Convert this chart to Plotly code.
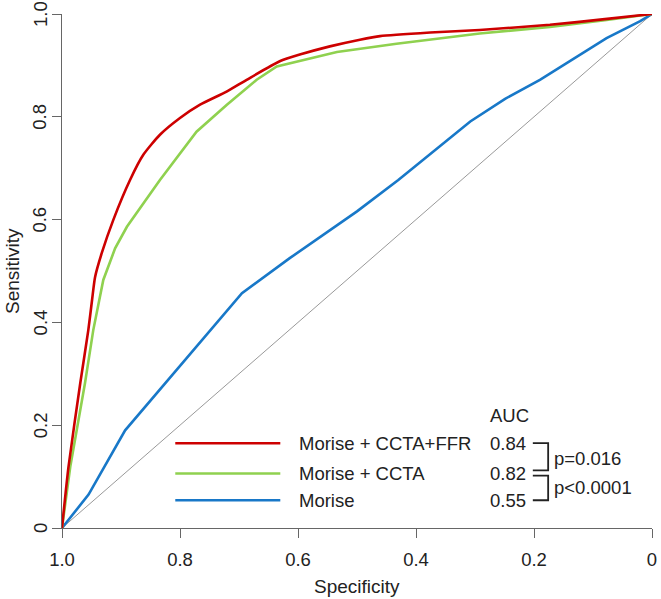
import plotly.graph_objects as go

# Specificity (x) and Sensitivity (y)
ffr_spec = [1.0, 0.989, 0.969, 0.9554, 0.949, 0.944, 0.9327, 0.913, 0.8847, 0.8622, 0.834, 0.80,
            0.766, 0.721, 0.687, 0.631, 0.597, 0.546, 0.495, 0.461, 0.376, 0.292, 0.173, 0.08, 0.0]
ffr_sens = [0.0, 0.119, 0.282, 0.385, 0.444, 0.488, 0.5346, 0.5995, 0.677, 0.726, 0.765, 0.7976,
            0.8235, 0.849, 0.872, 0.908, 0.921, 0.937, 0.95, 0.957, 0.964, 0.969, 0.979, 0.99, 1.0]

ccta_spec = [1.0, 0.986, 0.961, 0.947, 0.930, 0.910, 0.890, 0.834, 0.772, 0.721, 0.67,
             0.636, 0.534, 0.433, 0.292, 0.173, 0.08, 0.0]
ccta_sens = [0.0, 0.119, 0.282, 0.385, 0.4826, 0.544, 0.586, 0.677, 0.771, 0.823, 0.872,
             0.898, 0.926, 0.942, 0.962, 0.975, 0.988, 1.0]

morise_spec = [1.0, 0.955, 0.893, 0.695, 0.614, 0.5, 0.43, 0.308, 0.249, 0.19, 0.077, 0.02, 0.0]
morise_sens = [0.0, 0.065, 0.19, 0.457, 0.525, 0.616, 0.677, 0.791, 0.835, 0.872, 0.953, 0.986, 1.0]

labels = ["Morise + CCTA+FFR", "Morise + CCTA", "Morise"]
auc_values = ["0.84", "0.82", "0.55"]
p_values = ["p=0.016", "p<0.0001"]
colors = ["#CD0000", "#8FD14F", "#1878C8"]

tick_vals = [0, 0.2, 0.4, 0.6, 0.8, 1.0]
tick_text = ["0", "0.2", "0.4", "0.6", "0.8", "1.0"]

FONT = "Liberation Sans, Arial, sans-serif"
TXT = "#222222"
FS = 18.5

fig = go.Figure()
fig.add_trace(go.Scatter(x=[1, 0], y=[0, 1], mode="lines",
                         line=dict(color="#999999", width=1), cliponaxis=False, showlegend=False))
for xs, ys, c, shp in [(morise_spec, morise_sens, colors[2], "linear"),
                       (ccta_spec, ccta_sens, colors[1], "linear"),
                       (ffr_spec, ffr_sens, colors[0], "spline")]:
    line = dict(color=c, width=2.6, shape=shp)
    if shp == "spline":
        line["smoothing"] = 0.6
    fig.add_trace(go.Scatter(x=xs, y=ys, mode="lines", line=line,
                             cliponaxis=False, showlegend=False))

# legend block (data coordinates of the reversed axes)
leg_y = [0.165, 0.106, 0.054]
for i in range(3):
    fig.add_shape(type="line", xref="x", yref="y", x0=0.808, x1=0.630, y0=leg_y[i], y1=leg_y[i],
                  line=dict(color=colors[i], width=2.6))
    fig.add_annotation(x=0.602, y=leg_y[i], xref="x", yref="y", text=labels[i], showarrow=False,
                       xanchor="left", yanchor="middle", font=dict(size=FS, color=TXT, family=FONT))
    fig.add_annotation(x=0.278, y=leg_y[i], xref="x", yref="y", text=auc_values[i], showarrow=False,
                       xanchor="left", yanchor="middle", font=dict(size=FS, color=TXT, family=FONT))
fig.add_annotation(x=0.278, y=0.2196, xref="x", yref="y", text="AUC", showarrow=False,
                   xanchor="left", yanchor="middle", font=dict(size=FS, color=TXT, family=FONT))

bx0, bx1 = 0.202, 0.176
for ya, yb in [(0.165, 0.112), (0.102, 0.054)]:
    fig.add_shape(type="path", xref="x", yref="y",
                  path=f"M {bx0},{ya} L {bx1},{ya} L {bx1},{yb} L {bx0},{yb}",
                  line=dict(color="#222222", width=1.8))
fig.add_annotation(x=0.169, y=0.136, xref="x", yref="y", text=p_values[0], showarrow=False,
                   xanchor="left", yanchor="middle", font=dict(size=FS, color=TXT, family=FONT))
fig.add_annotation(x=0.169, y=0.079, xref="x", yref="y", text=p_values[1], showarrow=False,
                   xanchor="left", yanchor="middle", font=dict(size=FS, color=TXT, family=FONT))

# rotated y tick labels (R style)
for v, t in zip(tick_vals, tick_text):
    fig.add_annotation(x=0, y=v, xref="paper", yref="y", text=t, showarrow=False, textangle=-90,
                       xanchor="center", yanchor="middle", xshift=-22,
                       font=dict(size=FS, color=TXT, family=FONT))

# axis titles
fig.add_annotation(x=0.5, y=0, xref="paper", yref="paper", text="Specificity", showarrow=False,
                   xanchor="center", yanchor="middle", yshift=-58,
                   font=dict(size=19, color=TXT, family=FONT))
fig.add_annotation(x=0, y=0.5, xref="paper", yref="paper", text="Sensitivity", showarrow=False,
                   textangle=-90, xanchor="center", yanchor="middle", xshift=-50,
                   font=dict(size=19, color=TXT, family=FONT))

axis_common = dict(showgrid=False, zeroline=False, showline=True, linecolor="#666666", linewidth=1,
                   ticks="outside", ticklen=9, tickcolor="#666666", tickwidth=1,
                   tickvals=tick_vals, ticktext=tick_text, automargin=False,
                   tickfont=dict(size=FS, color=TXT, family=FONT))
fig.update_xaxes(range=[1, 0], ticklabelstandoff=6, **axis_common)
fig.update_yaxes(range=[0, 1], showticklabels=False, **axis_common)

fig.update_layout(width=661, height=599, margin=dict(l=62, r=9, t=14, b=71),
                  plot_bgcolor="white", paper_bgcolor="white")
fig.write_html("out.html")
